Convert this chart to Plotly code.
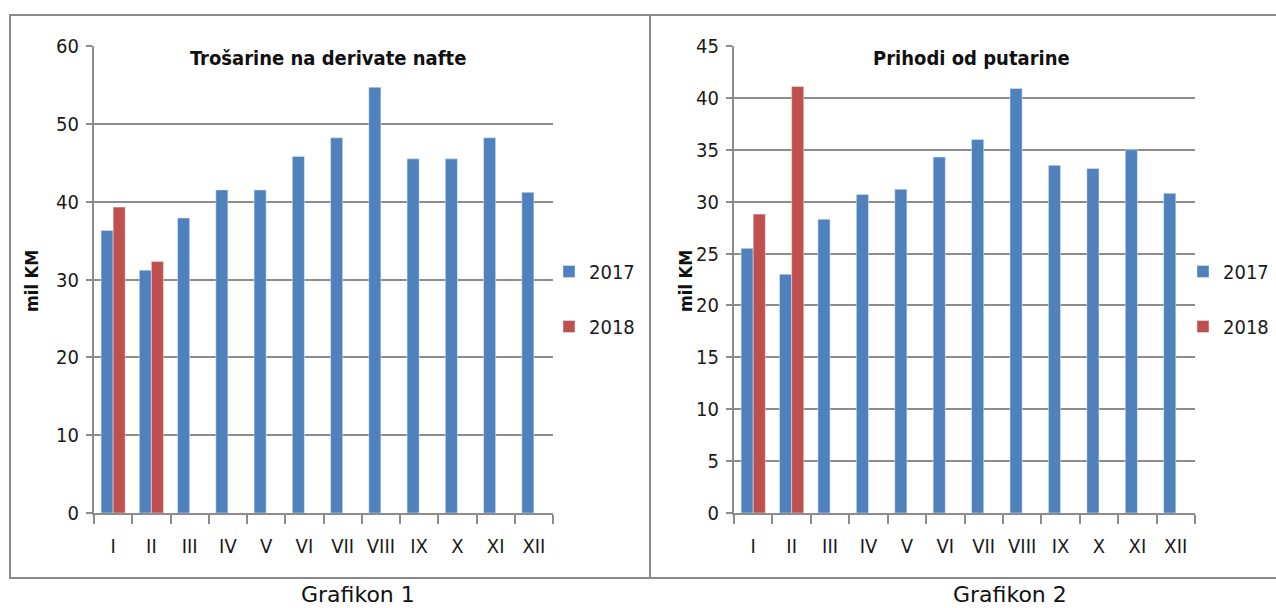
import plotly.graph_objects as go

# Mjeseci (rimski brojevi)
months = ["I", "II", "III", "IV", "V", "VI", "VII", "VIII", "IX", "X", "XI", "XII"]

# Grafikon 1: Trošarine na derivate nafte (mil KM)
trosarine_2017 = [36.3, 31.2, 37.9, 41.5, 41.5, 45.8, 48.2, 54.7, 45.5, 45.5, 48.2, 41.2]
trosarine_2018 = [39.3, 32.3]

# Grafikon 2: Prihodi od putarine (mil KM)
putarine_2017 = [25.5, 23.0, 28.3, 30.7, 31.2, 34.3, 36.0, 40.9, 33.5, 33.2, 35.0, 30.8]
putarine_2018 = [28.8, 41.1]

W, H = 1276, 608
BLUE = "#4F81BD"
RED = "#C0504D"
GRID = "#8C8C8C"
NARROW = ("Liberation Sans Narrow, Noto Sans Condensed, DejaVu Sans Condensed, "
          "Arial Narrow, sans-serif")


def px(x):
    return x / W


def py(y):
    return 1 - y / H


fig = go.Figure()

fig.add_trace(go.Bar(x=months, y=trosarine_2017, name="2017", marker_color=BLUE,
                     xaxis="x", yaxis="y", legend="legend", legendgroup="a17"))
fig.add_trace(go.Bar(x=months[:len(trosarine_2018)], y=trosarine_2018, name="2018",
                     marker_color=RED, xaxis="x", yaxis="y", legend="legend",
                     legendgroup="a18"))
fig.add_trace(go.Bar(x=months, y=putarine_2017, name="2017", marker_color=BLUE,
                     xaxis="x2", yaxis="y2", legend="legend2", legendgroup="p17"))
fig.add_trace(go.Bar(x=months[:len(putarine_2018)], y=putarine_2018, name="2018",
                     marker_color=RED, xaxis="x2", yaxis="y2", legend="legend2",
                     legendgroup="p18"))

xaxis_common = dict(
    type="category", categoryorder="array", categoryarray=months,
    showline=True, linecolor=GRID, linewidth=2, showgrid=False, automargin=False,
    ticks="outside", tickson="boundaries", ticklen=9, tickcolor=GRID, tickwidth=1.5,
    ticklabelstandoff=14,
    tickfont=dict(family=NARROW, size=20, color="#1a1a1a"),
    fixedrange=True,
)
yaxis_common = dict(
    showline=True, linecolor=GRID, linewidth=2, showgrid=True, gridcolor=GRID,
    gridwidth=1.6, zeroline=False, automargin=False,
    ticks="outside", ticklen=6, tickcolor=GRID, tickwidth=1.5, ticklabelstandoff=3,
    tickfont=dict(family=NARROW, size=20, color="#1a1a1a"),
    fixedrange=True,
)

y_top, y_zero = 46, 513

legend_common = dict(
    xanchor="right", yanchor="middle", y=py(299),
    font=dict(family=NARROW, size=20, color="#1a1a1a"),
    tracegroupgap=26, bgcolor="rgba(0,0,0,0)", borderwidth=0,
)

fig.update_layout(
    width=W, height=H, autosize=False,
    margin=dict(l=0, r=0, t=0, b=0, pad=0),
    paper_bgcolor="white", plot_bgcolor="white",
    barmode="group", bargap=0.37, bargroupgap=0,
    xaxis=dict(xaxis_common, domain=[px(94), px(553)], anchor="y"),
    yaxis=dict(yaxis_common, domain=[py(y_zero), py(y_top)], anchor="x",
               range=[0, 60], dtick=10),
    xaxis2=dict(xaxis_common, domain=[px(734), px(1195)], anchor="y2"),
    yaxis2=dict(yaxis_common, domain=[py(y_zero), py(y_top)], anchor="x2",
                range=[0, 45], dtick=5),
    legend=dict(legend_common, x=px(640)),
    legend2=dict(legend_common, x=px(1274)),
    showlegend=True,
)

# Okviri oko grafikona
fig.add_shape(type="rect", xref="paper", yref="paper",
              x0=px(10), x1=px(650), y0=py(578), y1=py(15),
              line=dict(color="#8A8A8A", width=2), layer="below")
fig.add_shape(type="rect", xref="paper", yref="paper",
              x0=px(650), x1=px(1290), y0=py(578), y1=py(15),
              line=dict(color="#8A8A8A", width=2), layer="below")

annotations = [
    dict(text="<b>Trošarine na derivate nafte</b>", x=px(328), y=py(58),
         font=dict(family=NARROW, size=20, color="#111")),
    dict(text="<b>Prihodi od putarine</b>", x=px(971), y=py(58),
         font=dict(family=NARROW, size=20, color="#111")),
    dict(text="<b>mil KM</b>", x=px(31), y=py(281), textangle=-90,
         font=dict(family=NARROW, size=18, color="#111")),
    dict(text="<b>mil KM</b>", x=px(685), y=py(281), textangle=-90,
         font=dict(family=NARROW, size=18, color="#111")),
    dict(text="Grafikon 1", x=px(358), y=py(594),
         font=dict(family="DejaVu Sans, Verdana, sans-serif", size=22, color="#111")),
    dict(text="Grafikon 2", x=px(1010), y=py(594),
         font=dict(family="DejaVu Sans, Verdana, sans-serif", size=22, color="#111")),
]
for a in annotations:
    fig.add_annotation(xref="paper", yref="paper", showarrow=False,
                       xanchor="center", yanchor="middle", **a)

fig.write_html("out.html")
